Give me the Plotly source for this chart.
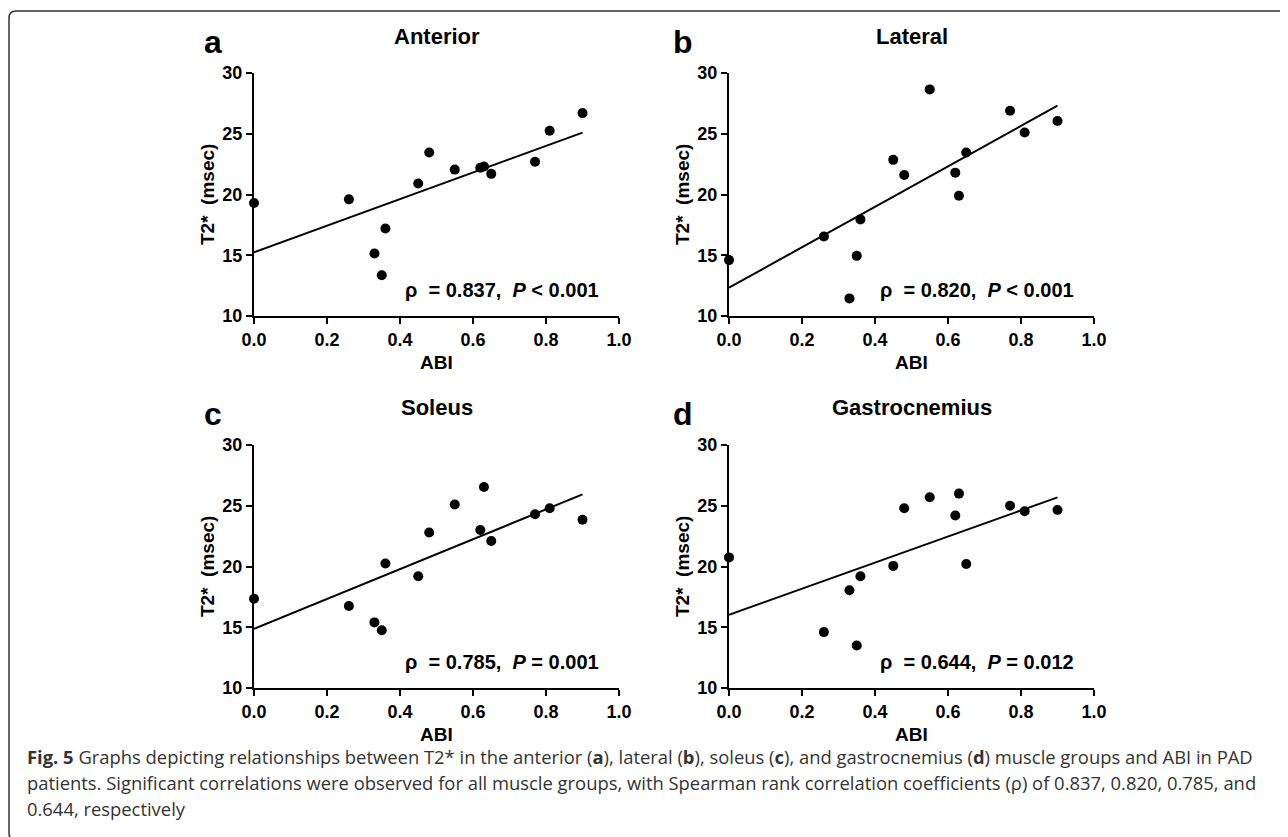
import numpy as np
import plotly.graph_objects as go

# ---------------- data ----------------
abi = [0.00, 0.26, 0.33, 0.35, 0.36, 0.45, 0.48, 0.55, 0.62, 0.63, 0.65, 0.77, 0.81, 0.90]
anterior = [19.3, 19.6, 15.15, 13.35, 17.2, 20.9, 23.45, 22.05, 22.2, 22.3, 21.7, 22.7, 25.25, 26.7]
lateral = [14.6, 16.55, 11.45, 14.95, 17.95, 22.85, 21.6, 28.65, 21.8, 19.9, 23.45, 26.9, 25.1, 26.05]
soleus = [17.35, 16.75, 15.4, 14.75, 20.25, 19.2, 22.8, 25.1, 23.0, 26.55, 22.1, 24.3, 24.8, 23.85]
gastrocnemius = [20.75, 14.6, 18.05, 13.5, 19.2, 20.05, 24.8, 25.7, 24.2, 26.0, 20.2, 25.0, 24.55, 24.65]

panel_letters = ["a", "b", "c", "d"]
panel_titles = ["Anterior", "Lateral", "Soleus", "Gastrocnemius"]
rho_values = ["0.837", "0.820", "0.785", "0.644"]
p_texts = ["&lt; 0.001", "&lt; 0.001", "= 0.001", "= 0.012"]
series = [anterior, lateral, soleus, gastrocnemius]

x_ticks = [0.0, 0.2, 0.4, 0.6, 0.8, 1.0]
y_ticks = [10, 15, 20, 25, 30]

caption_lines = [
    "<b>Fig. 5</b> Graphs depicting relationships between T2* in the anterior (<b>a</b>), lateral (<b>b</b>), "
    "soleus (<b>c</b>), and gastrocnemius (<b>d</b>) muscle groups and ABI in PAD",
    "patients. Significant correlations were observed for all muscle groups, with Spearman rank "
    "correlation coefficients (\u03c1) of 0.837, 0.820, 0.785, and",
    "0.644, respectively",
]

# ---------------- layout geometry (window pixels) ----------------
OFF = 8                      # page body margin
W, H = 1288 - OFF, 837 - OFF
def px(x):
    return (x - OFF) / W
def py(y):
    return 1 - (y - OFF) / H

col_x = [(254, 619), (729, 1094)]
row_y = [(73, 316), (445, 688)]
FONT = "Liberation Sans"
NB = "\u00a0"

fig = go.Figure()
layout = dict(
    width=W, height=H,
    margin=dict(l=0, r=0, t=0, b=0, pad=0, autoexpand=False),
    paper_bgcolor="white", plot_bgcolor="white",
    showlegend=False,
    template="none",
)
annotations = []

for i in range(4):
    r, c = divmod(i, 2)
    xa = "x" if i == 0 else f"x{i+1}"
    ya = "y" if i == 0 else f"y{i+1}"
    xkey = "xaxis" if i == 0 else f"xaxis{i+1}"
    ykey = "yaxis" if i == 0 else f"yaxis{i+1}"
    x0, x1 = col_x[c]
    y0, y1 = row_y[r]

    yv = series[i]
    slope, intercept = np.polyfit(abi, yv, 1)
    xl = np.array([min(abi), max(abi)])
    fig.add_trace(go.Scatter(x=xl, y=slope * xl + intercept, mode="lines",
                             line=dict(color="black", width=2),
                             xaxis=xa, yaxis=ya, cliponaxis=False, hoverinfo="skip"))
    fig.add_trace(go.Scatter(x=abi, y=yv, mode="markers",
                             marker=dict(color="black", size=10, line=dict(width=0)),
                             xaxis=xa, yaxis=ya, cliponaxis=False))

    common = dict(showgrid=False, zeroline=False, showline=True, linecolor="black",
                  linewidth=2, ticks="outside", ticklen=6, tickwidth=2, tickcolor="black",
                  automargin=False,
                  tickfont=dict(family=FONT, size=18, color="black", weight="bold"))
    layout[xkey] = dict(domain=[px(x0), px(x1)], anchor=ya, range=[0, 1.0],
                        tickvals=x_ticks, tickformat=".1f", **common)
    layout[ykey] = dict(domain=[py(y1), py(y0)], anchor=xa, range=[10, 30],
                        tickvals=y_ticks, **common)

    cx = (x0 + x1) / 2
    # panel title
    annotations.append(dict(text=f"<b>{panel_titles[i]}</b>", xref="paper", yref="paper",
                            x=px(cx), y=py(36 + 372 * r), xanchor="center", yanchor="middle",
                            showarrow=False, font=dict(family=FONT, size=22, color="black")))
    # panel letter
    annotations.append(dict(text=f"<b>{panel_letters[i]}</b>", xref="paper", yref="paper",
                            x=px(213 + 470 * c), y=py(42 + 372 * r), xanchor="center",
                            yanchor="middle", showarrow=False,
                            font=dict(family=FONT, size=32, color="black")))
    # x axis title
    annotations.append(dict(text="<b>ABI</b>", xref="paper", yref="paper",
                            x=px(cx), y=py(362 + 372 * r), xanchor="center", yanchor="middle",
                            showarrow=False, font=dict(family=FONT, size=19, color="black")))
    # y axis title
    annotations.append(dict(text=f"<b>T2*{NB}{NB}(msec)</b>", xref="paper", yref="paper",
                            x=px(207 + 475 * c), y=py(195 + 372 * r), xanchor="center",
                            yanchor="middle", textangle=-90, showarrow=False,
                            font=dict(family=FONT, size=19, color="black")))
    # correlation text
    annotations.append(dict(text=f"<b>\u03c1{NB}{NB}= {rho_values[i]},{NB}{NB}<i>P</i> {p_texts[i]}</b>",
                            xref=xa, yref=ya, x=0.951, y=12.1, xanchor="right", yanchor="middle",
                            showarrow=False, font=dict(family=FONT, size=20, color="black")))

caption_y = [756, 782, 808]
for line, yy in zip(caption_lines, caption_y):
    annotations.append(dict(text=line, xref="paper", yref="paper", x=px(25), y=py(yy),
                            xanchor="left", yanchor="middle", align="left", showarrow=False,
                            font=dict(family="Open Sans", size=18.4, color="#333333")))

layout["annotations"] = annotations

# rounded frame (extends past the right and bottom edges as in the reference)
bx0, by0, bx1, by1, rad = 9, 11, 1293, 840, 7
path = (f"M {px(bx0)},{py(by1 - rad)} L {px(bx0)},{py(by0 + rad)} "
        f"Q {px(bx0)},{py(by0)} {px(bx0 + rad)},{py(by0)} "
        f"L {px(bx1 - rad)},{py(by0)} Q {px(bx1)},{py(by0)} {px(bx1)},{py(by0 + rad)} "
        f"L {px(bx1)},{py(by1 - rad)} Q {px(bx1)},{py(by1)} {px(bx1 - rad)},{py(by1)} "
        f"L {px(bx0 + rad)},{py(by1)} Q {px(bx0)},{py(by1)} {px(bx0)},{py(by1 - rad)} Z")
layout["shapes"] = [dict(type="path", path=path, xref="paper", yref="paper",
                         line=dict(color="#333333", width=1.5), layer="below")]

fig.update_layout(**layout)
fig.write_html("out.html")
